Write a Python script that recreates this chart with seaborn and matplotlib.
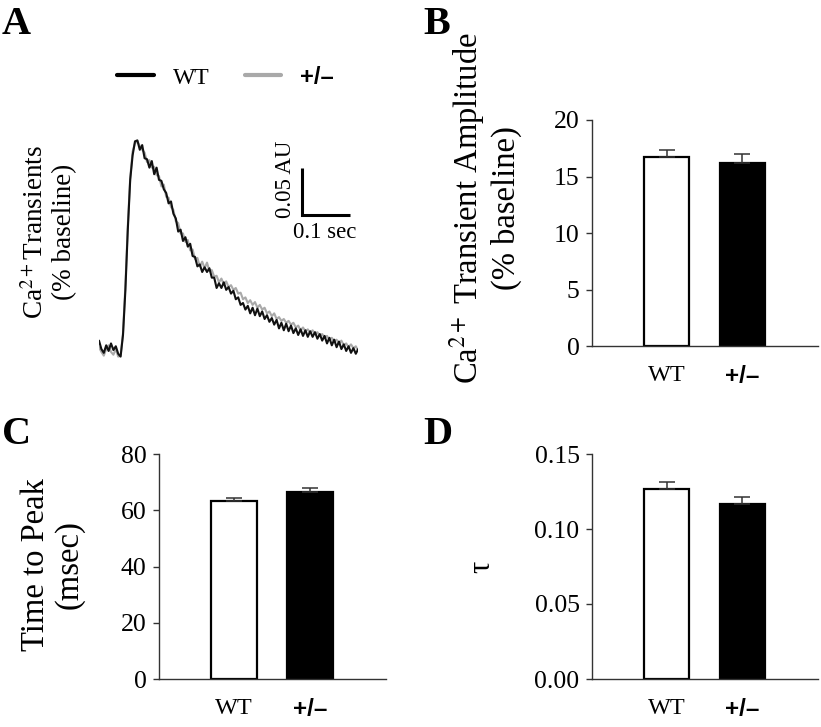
import numpy as np
import pandas as pd
import matplotlib
matplotlib.use("Agg")
import matplotlib.pyplot as plt
import seaborn as sns

sns.set_theme(style="white")
plt.rcParams['font.family'] = ['Liberation Serif', 'DejaVu Serif']
plt.rcParams['mathtext.fontset'] = 'stix'
for k in ['text.color', 'axes.labelcolor', 'xtick.color', 'ytick.color']:
    plt.rcParams[k] = 'black'

# ---------------- data ----------------
groups = ['WT', '+/\u2013']

# panel A: averaged Ca2+ transients (AU above baseline), sampled every 5 ms
dt = 0.005
wt_trace = [0.010, 0.001, -0.003, 0.005, -0.001, 0.007, 0.000, 0.004, -0.004,
            -0.007, 0.016, 0.064, 0.128, 0.181, 0.207, 0.222, 0.223, 0.213, 0.218,
            0.204, 0.203, 0.194, 0.201, 0.187, 0.194, 0.181, 0.180, 0.171, 0.167,
            0.156, 0.158, 0.145, 0.140, 0.126, 0.128, 0.116, 0.120, 0.110, 0.113,
            0.100, 0.099, 0.089, 0.091, 0.083, 0.088, 0.083, 0.087, 0.077, 0.077,
            0.066, 0.071, 0.066, 0.072, 0.064, 0.067, 0.060, 0.063, 0.054, 0.056,
            0.048, 0.050, 0.043, 0.047, 0.039, 0.045, 0.037, 0.044, 0.036, 0.041,
            0.033, 0.037, 0.030, 0.034, 0.027, 0.032, 0.023, 0.029, 0.021, 0.028,
            0.020, 0.026, 0.018, 0.023, 0.016, 0.022, 0.015, 0.021, 0.014, 0.020,
            0.014, 0.019, 0.012, 0.017, 0.010, 0.015, 0.007, 0.013, 0.005, 0.011,
            0.003, 0.009, 0.001, 0.006, -0.001, 0.004, -0.003, 0.002, -0.004, 0.001]
het_trace = [0.003, -0.002, -0.006, 0.001, 0.005, -0.002, -0.005, 0.001, -0.007,
             -0.006, 0.018, 0.069, 0.132, 0.183, 0.211, 0.220, 0.222, 0.217, 0.213,
             0.210, 0.200, 0.202, 0.194, 0.195, 0.186, 0.185, 0.174, 0.176, 0.163,
             0.162, 0.152, 0.149, 0.137, 0.135, 0.124, 0.124, 0.115, 0.117, 0.106,
             0.107, 0.097, 0.098, 0.089, 0.094, 0.087, 0.093, 0.084, 0.085, 0.078,
             0.079, 0.072, 0.076, 0.070, 0.073, 0.067, 0.069, 0.064, 0.066, 0.060,
             0.061, 0.054, 0.056, 0.050, 0.053, 0.048, 0.051, 0.045, 0.048, 0.043,
             0.045, 0.039, 0.041, 0.036, 0.039, 0.033, 0.035, 0.031, 0.033, 0.029,
             0.031, 0.027, 0.029, 0.024, 0.026, 0.021, 0.024, 0.020, 0.022, 0.018,
             0.021, 0.017, 0.019, 0.015, 0.017, 0.013, 0.015, 0.011, 0.013, 0.009,
             0.011, 0.007, 0.010, 0.005, 0.007, 0.003, 0.006, 0.002, 0.004, -0.001]

# panel B: transient amplitude (% baseline)
amp_mean = [16.7, 16.2]
amp_sem = [0.65, 0.8]
# panel C: time to peak (msec)
ttp_mean = [63.3, 66.6]
ttp_sem = [0.9, 1.4]
# panel D: tau
tau_mean = [0.127, 0.117]
tau_sem = [0.0045, 0.0042]

W, H = 821, 727
fig = plt.figure(figsize=(W / 100, H / 100), dpi=100)


def px_axes(x0, y_top, x1, y_bot):
    return fig.add_axes([x0 / W, 1 - y_bot / H, (x1 - x0) / W, (y_bot - y_top) / H])


# ---------------- A: traces ----------------
axA = px_axes(99, 133.8, 358.2, 361.3)
t = np.arange(len(wt_trace)) * dt
df = pd.DataFrame({'time': np.concatenate([t, t]),
                   'signal': wt_trace + het_trace,
                   'genotype': ['WT'] * len(t) + ['het'] * len(t)})
sns.lineplot(data=df[df.genotype == 'het'], x='time', y='signal', color='#a9a9a9',
             lw=1.5, ax=axA, legend=False)
sns.lineplot(data=df[df.genotype == 'WT'], x='time', y='signal', color='#111111',
             lw=1.5, ax=axA, legend=False)
axA.set_xlim(0, 0.54)
axA.set_ylim(-0.012, 0.23)
axA.axis('off')

# scale bar 0.1 sec x 0.05 AU
sb_x, sb_y = 0.423, 0.1436
axA.plot([sb_x, sb_x, sb_x + 0.1], [sb_y + 0.05, sb_y, sb_y], color='black', lw=2.2,
         solid_joinstyle='miter', solid_capstyle='butt')
axA.text(sb_x - 0.035, sb_y + 0.038, '0.05 AU', rotation=90, ha='center', va='center',
         fontsize=16.5)
axA.text(sb_x + 0.048, sb_y - 0.019, '0.1 sec', ha='center', va='center', fontsize=16.5)

axA.text(-0.19, 0.568, 'Ca$^{2+}$Transients\n(% baseline)', transform=axA.transAxes,
         rotation=90, fontsize=19.5, ha='center', va='center', linespacing=1.15)

h1, = axA.plot([], [], color='black', lw=3)
h2, = axA.plot([], [], color='#a9a9a9', lw=3)
leg = fig.legend([h1, h2], groups, loc='center left', bbox_to_anchor=(117 / W, 1 - 77 / H),
                 ncol=2, frameon=False, fontsize=17, handlelength=1.55, handletextpad=0.8,
                 columnspacing=1.5, borderpad=0, borderaxespad=0)
leg.get_texts()[1].set_family(['Liberation Sans', 'DejaVu Sans'])
leg.get_texts()[1].set_fontweight('bold')


# ---------------- bar panels ----------------
def bar_panel(ax, means, sems, ymax, step, fmt, ylabel, lab_xy, lab_size):
    d = pd.DataFrame({'group': groups, 'value': means})
    sns.barplot(data=d, x='group', y='value', hue='group', palette=['white', 'black'],
                edgecolor='black', linewidth=1.6, width=0.6, legend=False, ax=ax,
                errorbar=None)
    ax.errorbar([0, 1], means, yerr=[[0, 0], sems], fmt='none', ecolor='#333333',
                elinewidth=1.1, capsize=5.5, capthick=1.1, zorder=1)
    ax.set_xlim(-0.987, 2.0)
    ax.set_ylim(0, ymax)
    ticks = np.arange(0, ymax + step / 2, step)
    ax.set_yticks(ticks)
    ax.set_yticklabels([fmt.format(v) for v in ticks])
    sns.despine(ax=ax)
    for s in ['left', 'bottom']:
        ax.spines[s].set_color('#333333')
        ax.spines[s].set_linewidth(1.0)
    ax.tick_params(axis='y', direction='out', length=4, width=1.0, color='#333333',
                   labelsize=18.5, pad=5, left=True)
    ax.tick_params(axis='x', length=0, labelsize=17.5, pad=14)
    ax.xaxis.get_ticklabels()[1].set_family(['Liberation Sans', 'DejaVu Sans'])
    ax.xaxis.get_ticklabels()[1].set_fontweight('bold')
    ax.set_xlabel('')
    ax.set_ylabel(ylabel, fontsize=lab_size, ha='center', va='center', linespacing=1.15)
    ax.yaxis.set_label_coords(*lab_xy)


axB = px_axes(592, 120, 818, 346)
bar_panel(axB, amp_mean, amp_sem, 20, 5, '{:.0f}',
          'Ca$^{2+}$ Transient Amplitude\n(% baseline)', (-0.476, 0.611), 23.5)
axC = px_axes(159, 454, 386, 679)
bar_panel(axC, ttp_mean, ttp_sem, 80, 20, '{:.0f}', 'Time to Peak\n(msec)',
          (-0.469, 0.507), 23.5)
axD = px_axes(592, 454, 818, 679)
bar_panel(axD, tau_mean, tau_sem, 0.15, 0.05, '{:.2f}', '\u03c4', (-0.487, 0.498), 22)

# panel letters
for letter, x, y in [('A', 2, 24), ('B', 423, 25), ('C', 2, 434), ('D', 423, 435)]:
    fig.text(x / W, 1 - y / H, letter, fontsize=29, fontweight='bold', ha='left',
             va='center')

fig.savefig('out.png', dpi=100)
